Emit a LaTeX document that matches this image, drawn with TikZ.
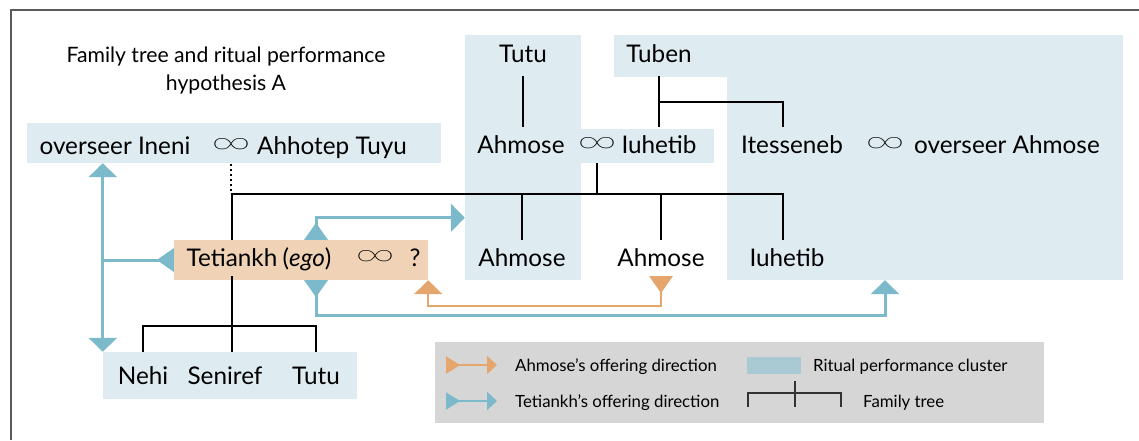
\documentclass[tikz,border=0pt]{standalone}
\usepackage{fontspec}
\setmainfont{Lato}
\usepackage{graphicx}
\usetikzlibrary{arrows.meta,calc}

\definecolor{clusterblue}{HTML}{DEECF1}
\definecolor{egopeach}{HTML}{F0D3B6}
\definecolor{offerblue}{HTML}{7CBACB}
\definecolor{offerorange}{HTML}{E5A66E}
\definecolor{legendgray}{HTML}{D6D6D6}
\definecolor{swatchblue}{HTML}{A9CAD3}
\definecolor{framegray}{HTML}{5A5A5A}

% thin marriage sign, first light face that is found
\newcommand{\marr}{\resizebox{37pt}{14pt}{$\infty$}}
\IfFontExistsTF{Fira Sans Thin}
  {\newfontfamily\marfont{Fira Sans Thin}\renewcommand{\marr}{\resizebox{41pt}{16pt}{\marfont ∞}}}
  {\IfFontExistsTF{DejaVu Sans ExtraLight}
    {\newfontfamily\marfont{DejaVu Sans ExtraLight}\renewcommand{\marr}{\resizebox{41pt}{16pt}{\marfont ∞}}}
    {\IfFontExistsTF{FiraSans-Thin.otf}
      {\newfontfamily\marfont{FiraSans-Thin.otf}\renewcommand{\marr}{\resizebox{41pt}{16pt}{\marfont ∞}}}
      {}}}

\begin{document}
\begin{tikzpicture}[x=1pt, y=-1pt, line join=miter]
  \useasboundingbox (0,0) rectangle (1139,440);
  \tikzset{
    cluster/.style={rectangle, fill=clusterblue, inner sep=0pt},
    egobox/.style={rectangle, fill=egopeach, inner sep=0pt},
    person/.style={font=\fontsize{24.3}{27}\selectfont, inner sep=0pt, text height=17pt, text depth=0pt, minimum height=36pt},
    titlelab/.style={font=\fontsize{21.2}{28}\selectfont, align=center, inner sep=0pt},
    leglab/.style={font=\fontsize{16.8}{19}\selectfont, anchor=west, inner sep=0pt, text height=12pt, text depth=0pt},
    tree/.style={black, line width=2pt},
    dotline/.style={black, line width=2pt, dash pattern=on 2pt off 3pt},
    bluearr/.style={offerblue, line width=3pt, {Triangle[reversed, length=17pt, width=23pt]}-{Triangle[length=14pt, width=28pt]}},
    bluetail/.style={offerblue, line width=3pt, {Triangle[reversed, length=17pt, width=23pt]}-},
    blueboth/.style={offerblue, line width=3pt, {Triangle[length=14pt, width=28pt]}-{Triangle[length=14pt, width=28pt]}},
    orangearr/.style={offerorange, line width=2.5pt, {Triangle[reversed, length=17pt, width=23pt]}-{Triangle[length=14pt, width=28pt]}},
    legorange/.style={offerorange, line width=2pt, {Triangle[reversed, length=14pt, width=17pt]}-{Triangle[length=10pt, width=18pt]}},
    legblue/.style={offerblue, line width=2pt, {Triangle[reversed, length=14pt, width=17pt]}-{Triangle[length=10pt, width=18pt]}},
    legtree/.style={black!80, line width=1.5pt}
  }

  % --- frame
  \draw[framegray, line width=1.5pt] (11,440) -- (11,10) -- (1139,10);

  % --- cluster boxes
  \node[cluster, minimum width=414pt, minimum height=40pt] (ineniBox) at (234,143) {};
  \node[cluster, minimum width=116pt, minimum height=245pt] (tutuBox) at (523,157.5) {};
  \node[cluster, minimum width=133pt, minimum height=34pt] (iuhetibBox) at (647.5,146) {};
  \node[cluster, minimum width=113pt, minimum height=42pt] (tubenBox) at (670.5,56) {};
  \node[cluster, minimum width=396pt, minimum height=245pt] (itessenebBox) at (925,157.5) {};
  \node[egobox, minimum width=254pt, minimum height=40pt] (egoBox) at (301,260) {};
  \node[cluster, minimum width=254pt, minimum height=47pt] (nehiBox) at (230,375.5) {};

  % --- title
  \node[titlelab] (title) at (226,71) {Family tree and ritual performance\\hypothesis A};

  % --- names
  \node[person] (ineni) at (115,146) {overseer Ineni};
  \node[person] (marA) at (231,146) {\marr};
  \node[person] (ahhotep) at (332,146) {Ahhotep Tuyu};

  \node[person, minimum height=44pt] (tutuT) at (523,54) {Tutu};
  \node[person, minimum height=44pt] (tuben) at (659,54) {Tuben};

  \node[person] (ahmoseP) at (521,145) {Ahmose};
  \node[person] (marB) at (597,145) {\marr};
  \node[person] (iuhetibP) at (659,145) {Iuhetib};
  \node[person] (itesseneb) at (792,145) {Itesseneb};
  \node[person] (marC) at (885,145) {\marr};
  \node[person] (ahmoseO) at (1007,145) {overseer Ahmose};

  \node[person] (ahmoseC1) at (522,258) {Ahmose};
  \node[person] (ahmoseC2) at (661,258) {Ahmose};
  \node[person] (iuhetibC) at (787,258) {Iuhetib};

  \node[person] (tetiankh) at (232,258) {Tetiankh};
  \node[person, anchor=west] (ego) at ([xshift=5pt]tetiankh.east) {(\textit{ego})};
  \node[person] (marD) at (375,258) {\marr};
  \node[person] (unknown) at (415,258) {?};

  \node[person, minimum height=48pt] (nehi) at (143,376) {Nehi};
  \node[person, minimum height=48pt] (seniref) at (225,376) {Seniref};
  \node[person, minimum height=48pt] (tutuC) at (316,376) {Tutu};

  % --- family tree
  \draw[tree] (tutuT) -- (tutuT |- ahmoseP.north);
  \draw[tree] (tuben) -- (tuben |- iuhetibP.north);
  \draw[tree] ($(tuben.south)!0.5!(iuhetibP.north)$) -| ([xshift=-9pt]itesseneb.north);

  \coordinate (sib) at ($(marB.south)+(0,31)$);
  \draw[tree] (marB) -- (sib);
  \draw[tree] (tetiankh.north) |- (sib) -| ([xshift=-4pt]iuhetibC.north);
  \draw[tree] (sib -| ahmoseC1) -- (ahmoseC1);
  \draw[tree] (sib -| ahmoseC2) -- (ahmoseC2);
  \draw[dotline] (marA) -- (marA |- sib);

  \coordinate (kids) at ($(seniref.north)+(0,-26)$);
  \draw[tree] (tetiankh) -- (tetiankh |- seniref.north);
  \draw[tree] (nehi.north) |- (kids) -| (tutuC.north);

  % --- offering directions
  \draw[bluetail] (egoBox.west) -- (egoBox.west -| nehiBox.west);
  \draw[blueboth] (ineniBox.south -| nehiBox.west) -- (nehiBox.north west);
  \draw[bluearr] (tutuC |- egoBox.north) -- ++(0,-22) coordinate (egoUp) -- (egoUp -| tutuBox.west);
  \draw[bluearr] (tutuC |- egoBox.south) -- ++(0,35) coordinate (egoDown) -- (egoDown -| marC) -- (marC |- itessenebBox.south);
  \draw[orangearr] (ahmoseC2.south) -- ++(0,30) coordinate (ahmDown) -- (ahmDown -| egoBox.south east) -- (egoBox.south east);

  % --- legend
  \node[rectangle, fill=legendgray, inner sep=0pt, minimum width=609pt, minimum height=81pt] (legendBox) at (739.5,382.5) {};
  \node[leglab] (legAhmose) at (515,365) {Ahmose’s offering direction};
  \node[leglab] (legTetiankh) at (515,401) {Tetiankh’s offering direction};
  \node[leglab] (legCluster) at (813,365) {Ritual performance cluster};
  \node[leglab] (legTree) at (863,401) {Family tree};

  \draw[legorange] ([xshift=-69pt]legAhmose.west) -- ([xshift=-18pt]legAhmose.west);
  \draw[legblue] ([xshift=-69pt]legTetiankh.west) -- ([xshift=-18pt]legTetiankh.west);
  \fill[swatchblue] ([xshift=-66pt, yshift=8.5pt]legCluster.west) rectangle ([xshift=-12pt, yshift=-8.5pt]legCluster.west);
  \draw[legtree] ([xshift=-115pt, yshift=-6pt]legTree.west) -- ++(0,-14) -- ++(93,0) -- ++(0,14);
  \draw[legtree] ([xshift=-68pt, yshift=-6pt]legTree.west) -- ++(0,-26);

\end{tikzpicture}
\end{document}
